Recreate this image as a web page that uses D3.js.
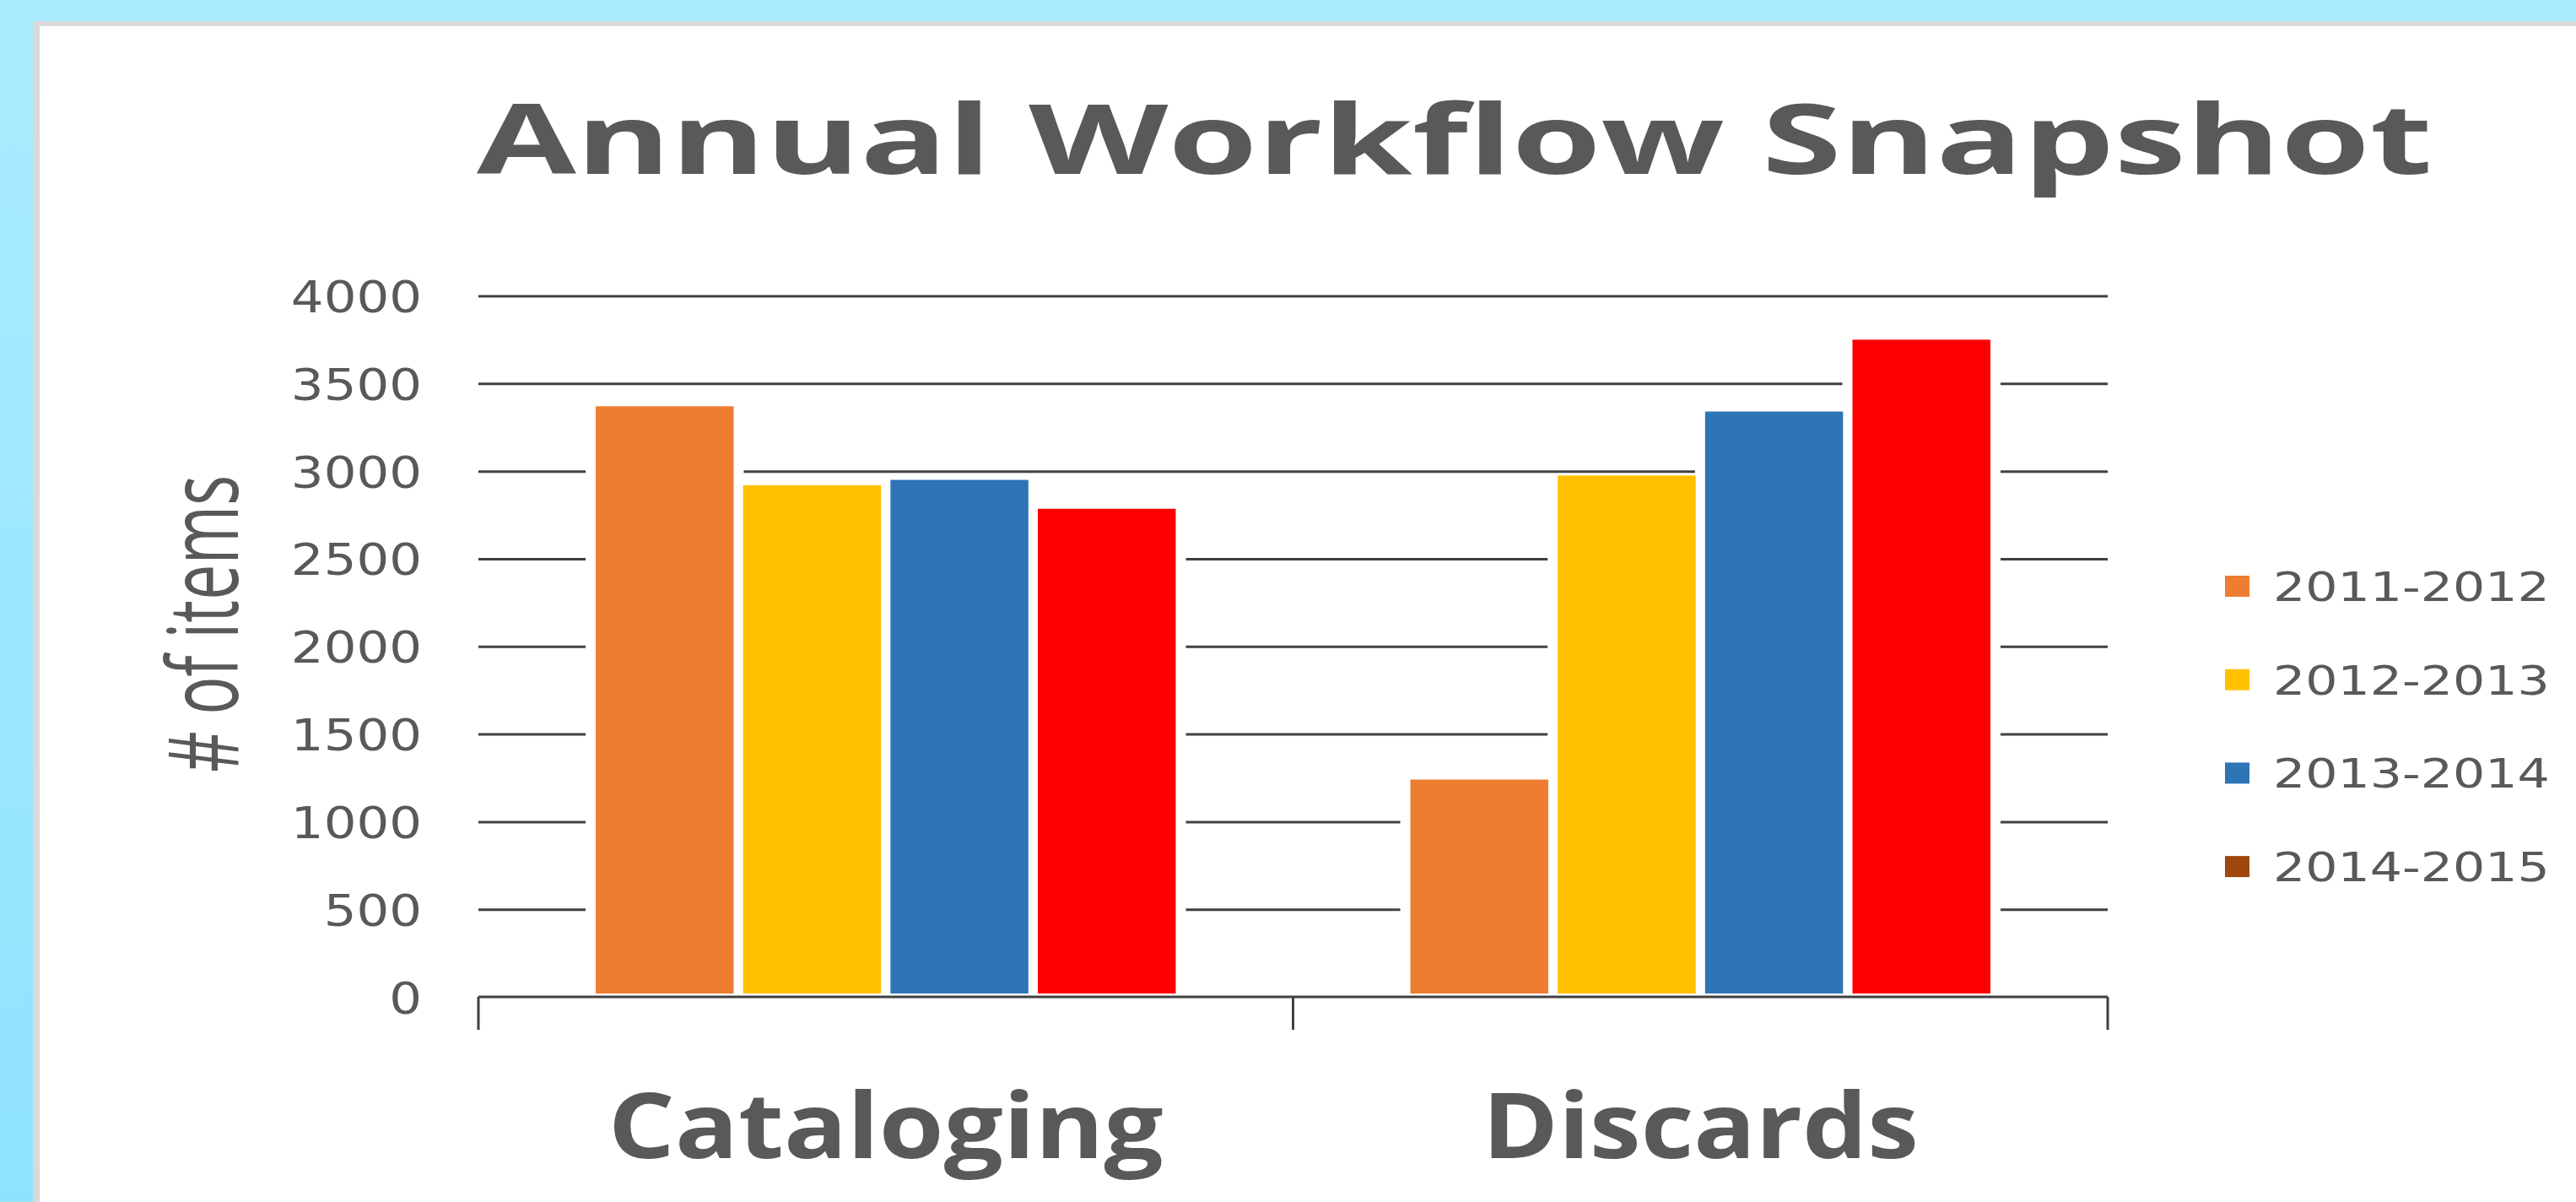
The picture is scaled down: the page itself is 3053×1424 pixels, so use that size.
<!DOCTYPE html>
<html>
<head>
<meta charset="utf-8">
<script src="https://cdn.jsdelivr.net/npm/d3@7"></script>
<style>
html, body { margin: 0; padding: 0; overflow: hidden; }
body { width: 3053px; height: 1424px; }
</style>
</head>
<body>
<div id="chart"></div>
<script>
var categories = ['Cataloging', 'Discards'];
var seasons = ['2011-2012', '2012-2013', '2013-2014', '2014-2015'];
var cataloging = [3370, 2920, 2950, 2785];
var discards = [1240, 2975, 3340, 3750];
var yTicks = [0, 500, 1000, 1500, 2000, 2500, 3000, 3500, 4000];
var barColors = ['#ED7D31', '#FFC000', '#2E75B6', '#FF0000'];
var legendColors = ['#ED7D31', '#FFC000', '#2E75B6', '#9E480E'];

var W = 3053, H = 1424;
var textColor = '#595959', lineColor = '#404040';
// plot box (window.top is reserved, so no plain "top")
var plotLeft = 567, plotRight = 2498, plotTop = 350.5, plotBottom = 1181;

var rows = categories.map(function(c, i) {
    var vals = i === 0 ? cataloging : discards;
    return { cat: c, values: seasons.map(function(s, j) { return { season: s, value: vals[j], idx: j }; }) };
});

// the source picture is stretched sideways, so stretch text glyphs to the measured width
function stretchTo(text, x, y, width) {
    var w = text.node().getComputedTextLength();
    text.attr('x', 0).attr('y', 0)
        .attr('transform', 'translate(' + x + ',' + y + ') scale(' + (width / w) + ',1)');
}

var svg = d3.select('#chart').append('svg')
    .attr('width', W)
    .attr('height', H);

// background + panel
var defs = svg.append('defs');
var grad = defs.append('linearGradient').attr('id', 'bg').attr('x1', 0).attr('y1', 0).attr('x2', 0).attr('y2', 1);
grad.append('stop').attr('offset', '0%').attr('stop-color', '#aaecff');
grad.append('stop').attr('offset', '100%').attr('stop-color', '#8fe3ff');
svg.append('rect').attr('width', W).attr('height', H).attr('fill', 'url(#bg)');
svg.append('rect').attr('x', 39).attr('y', 25).attr('width', W - 39).attr('height', H - 25).attr('fill', '#d9d9d9');
svg.append('rect').attr('x', 47).attr('y', 31).attr('width', W - 47).attr('height', H - 31).attr('fill', '#ffffff');

var y = d3.scaleLinear().domain([0, 4000]).range([plotBottom, plotTop]);
var x0 = d3.scaleBand().domain(categories).range([plotLeft, plotRight]).paddingInner(0.288).paddingOuter(0.144);
var x1 = d3.scaleBand().domain(seasons).range([0, x0.bandwidth()]).paddingInner(0.064);

// title
var title = svg.append('text')
    .style('font-family', '"Open Sans", sans-serif')
    .style('font-weight', 700)
    .style('font-size', '114px')
    .style('fill', textColor)
    .text('Annual Workflow Snapshot');
stretchTo(title, 565, 206, 2318);

// y axis w/ gridlines
var yAxis = svg.append('g')
    .attr('transform', 'translate(' + plotLeft + ',0)')
    .call(d3.axisLeft(y).tickValues(yTicks).tickFormat(d3.format('d'))
        .tickSize(-(plotRight - plotLeft)).tickPadding(67));
yAxis.select('.domain').remove();
yAxis.selectAll('.tick line').attr('stroke', lineColor).attr('stroke-width', 3);
yAxis.selectAll('.tick text')
    .style('font-family', '"DejaVu Sans", sans-serif')
    .style('font-size', '52px')
    .style('fill', textColor)
    .attr('dy', null)
    .each(function(d) {
        stretchTo(d3.select(this), -67, 19, String(d).length * 38.8);
    });
// the 0 gridline is replaced by the axis line
yAxis.selectAll('.tick').filter(function(d) { return d === 0; }).select('line').remove();

// bars
var groups = svg.selectAll('.grp')
    .data(rows)
    .enter().append('g')
    .attr('class', 'grp')
    .attr('transform', function(d) { return 'translate(' + x0(d.cat) + ',0)'; });

var pad = 12, baseGap = 4;
groups.selectAll('.knock')
    .data(function(d) { return d.values; })
    .enter().append('rect')
    .attr('class', 'knock')
    .attr('x', function(d) { return x1(d.season) - pad; })
    .attr('y', function(d) { return y(d.value); })
    .attr('width', x1.bandwidth() + pad * 2)
    .attr('height', function(d) { return y(0) - y(d.value) - 2; })
    .attr('fill', '#fff');
groups.selectAll('.bar')
    .data(function(d) { return d.values; })
    .enter().append('rect')
    .attr('class', 'bar')
    .attr('x', function(d) { return x1(d.season); })
    .attr('y', function(d) { return y(d.value); })
    .attr('width', x1.bandwidth())
    .attr('height', function(d) { return y(0) - y(d.value) - baseGap; })
    .attr('fill', function(d) { return barColors[d.idx]; });

// x axis line + ticks at category edges
svg.append('line')
    .attr('x1', plotLeft).attr('x2', plotRight)
    .attr('y1', y(0)).attr('y2', y(0))
    .attr('stroke', lineColor).attr('stroke-width', 3);
var edges = categories.map(function(c) { return x0(c) - x0.step() * x0.paddingOuter(); });
edges.push(plotRight);
svg.selectAll('.xtick')
    .data(edges)
    .enter().append('line')
    .attr('class', 'xtick')
    .attr('x1', function(d) { return d; }).attr('x2', function(d) { return d; })
    .attr('y1', y(0)).attr('y2', y(0) + 39)
    .attr('stroke', lineColor).attr('stroke-width', 3);

var catWidths = { 'Cataloging': 658, 'Discards': 517 };
svg.selectAll('.xlab')
    .data(categories)
    .enter().append('text')
    .attr('class', 'xlab')
    .attr('text-anchor', 'middle')
    .style('font-family', '"Open Sans", sans-serif')
    .style('font-weight', 700)
    .style('font-size', '108px')
    .style('fill', textColor)
    .text(function(d) { return d; })
    .each(function(d) {
        stretchTo(d3.select(this), x0(d) + x0.bandwidth() / 2, 1372, catWidths[d]);
    });

// y label
svg.append('text')
    .attr('transform', 'translate(282,739) scale(1.16,1) rotate(-90)')
    .attr('text-anchor', 'middle')
    .attr('textLength', 352)
    .attr('lengthAdjust', 'spacingAndGlyphs')
    .style('font-family', '"Open Sans", sans-serif')
    .style('font-weight', 400)
    .style('font-size', '100px')
    .style('fill', textColor)
    .text('# of items');

// legend
var legend = svg.selectAll('.leg')
    .data(seasons)
    .enter().append('g')
    .attr('class', 'leg')
    .attr('transform', function(d, i) { return 'translate(2637,' + (694.5 + i * 110.7) + ')'; });
legend.append('rect')
    .attr('x', 0).attr('y', -12.5)
    .attr('width', 29).attr('height', 25)
    .attr('fill', function(d, i) { return legendColors[i]; });
legend.append('text')
    .style('font-family', '"DejaVu Sans", sans-serif')
    .style('font-size', '48px')
    .style('fill', textColor)
    .text(function(d) { return d; })
    .each(function() { stretchTo(d3.select(this), 57, 17.5, 328); });
</script>
</body>
</html>
